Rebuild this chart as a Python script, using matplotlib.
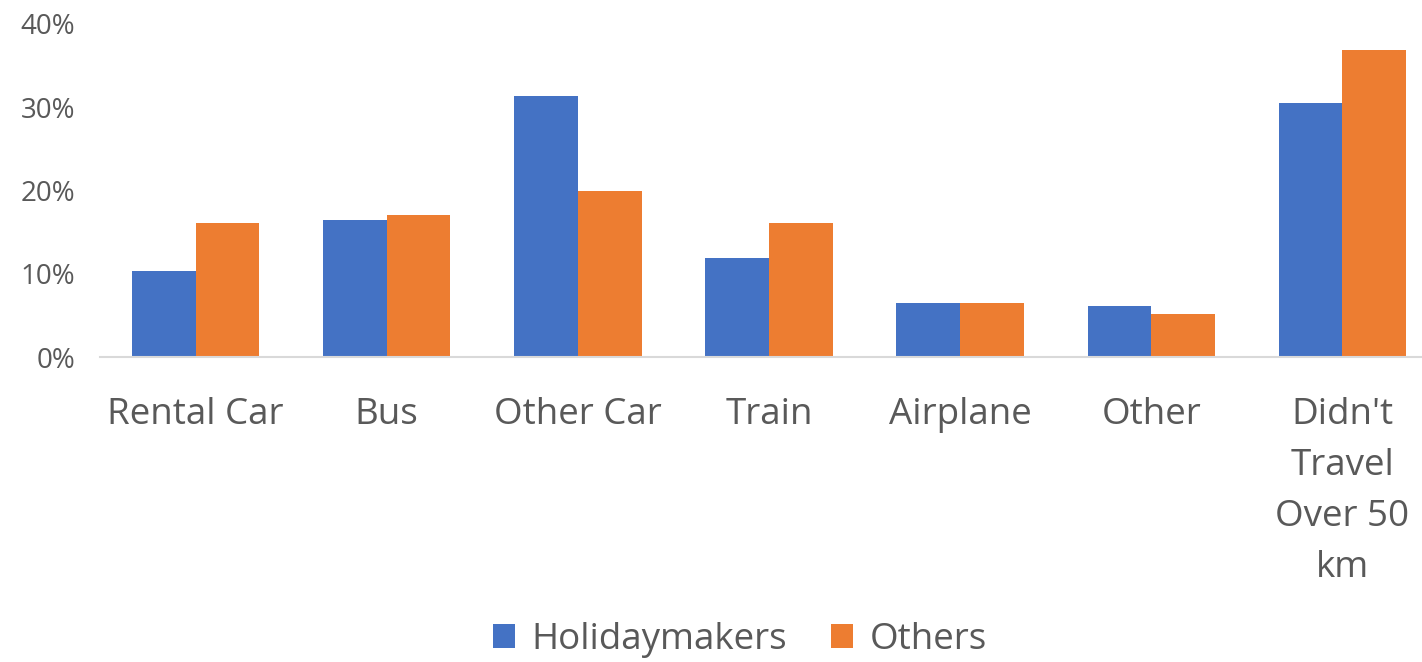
from matplotlib import pyplot as plt
import numpy as np

categories = ["Rental Car", "Bus", "Other Car", "Train", "Airplane", "Other",
              "Didn't\nTravel\nOver 50\nkm"]
holidaymakers = [10.3, 16.4, 31.4, 11.9, 6.5, 6.1, 30.5]
others = [16.1, 17.0, 19.9, 16.1, 6.5, 5.2, 36.9]
series_names = ["Holidaymakers", "Others"]
yticks = [0, 10, 20, 30, 40]

blue = "#4472C4"
orange = "#ED7D31"
grey = "#595959"
font = "Open Sans"

fig = plt.figure(figsize=(14.22, 6.62), dpi=100)
W, H = 1422, 662
# axes runs a bit past the right edge, like the cropped original
ax = fig.add_axes([100 / W, 1 - 357 / H, 1338 / W, (357 - 24) / H])

x = np.arange(len(categories))
bw = 1 / 3
ax.bar(x - bw / 2, holidaymakers, bw, color=blue, label=series_names[0])
ax.bar(x + bw / 2, others, bw, color=orange, label=series_names[1])

ax.set_xlim(-0.5, len(categories) - 0.5)
ax.set_ylim(0, 40)
ax.set_yticks(yticks)
ax.set_yticklabels([f"{t}%" for t in yticks], fontsize=20, color=grey, family=font)
ax.set_xticks(x)
ax.set_xticklabels(categories, fontsize=26.5, color=grey, family=font,
                   linespacing=1.55, va="top")
ax.tick_params(axis="both", length=0)
ax.tick_params(axis="y", pad=18)
ax.tick_params(axis="x", pad=29)
for s in ["top", "right", "left"]:
    ax.spines[s].set_visible(False)
ax.spines["bottom"].set_color("#D9D9D9")
ax.spines["bottom"].set_linewidth(1.5)

fig.legend(loc="center", bbox_to_anchor=(740 / W, 1 - 640 / H), ncol=2,
           frameon=False, prop={"family": font, "size": 26.5},
           labelcolor=grey, handlelength=0.6, handleheight=0.6,
           handletextpad=0.45, columnspacing=1.2)

plt.savefig("out.png", dpi=100)
